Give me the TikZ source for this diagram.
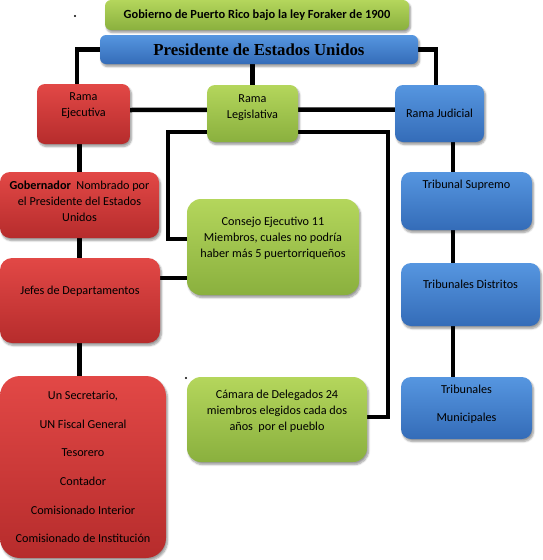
\documentclass[tikz,border=0pt]{standalone}
\usepackage{fontspec}
\setmainfont{Carlito}
\newfontfamily\presfont{Liberation Serif}
\usetikzlibrary{calc,backgrounds,shadows.blur}

\begin{document}
\begin{tikzpicture}[x=1pt, y=-1pt, line join=miter,
  box/.style={rounded corners=8pt, align=center, inner sep=2pt,
    font=\fontsize{12.2}{16}\selectfont,
    blur shadow={shadow xshift=1.5pt, shadow yshift=-2.5pt, shadow blur steps=6}},
  redbox/.style={box, top color=redtop, bottom color=redbot},
  greenbox/.style={box, top color=greentop, bottom color=greenbot},
  bluebox/.style={box, top color=bluetop, bottom color=bluebot},
  link/.style={line width=4.5pt, black}]

% Colors
\definecolor{redtop}{RGB}{226,72,70}
\definecolor{redbot}{RGB}{182,44,44}
\definecolor{greentop}{RGB}{180,214,92}
\definecolor{greenbot}{RGB}{138,176,62}
\definecolor{bluetop}{RGB}{86,150,224}
\definecolor{bluebot}{RGB}{52,108,184}

\useasboundingbox (0,0) rectangle (543,560);

% Header
\node[greenbox, rounded corners=6pt, minimum width=304pt, minimum height=30pt,
  font=\fontsize{12.4}{14}\selectfont\bfseries] (title) at (257,15)
  {Gobierno de Puerto Rico bajo la ley Foraker de 1900};
\node[bluebox, rounded corners=6pt, minimum width=318pt, minimum height=29pt,
  font=\fontsize{16.8}{18}\selectfont\presfont\bfseries] (pres) at (259,49.5)
  {Presidente de Estados Unidos};

% Three branches
\node[redbox, minimum width=93pt, minimum height=60pt, text depth=19.5pt] (ej) at (83.5,114)
  {Rama\\Ejecutiva};
\node[greenbox, minimum width=91pt, minimum height=57pt, text depth=13.5pt] (leg) at (252.5,113.5)
  {Rama\\Legislativa};
\node[bluebox, minimum width=89pt, minimum height=57pt] (jud) at (439.5,113.5)
  {Rama Judicial};

% Executive column
\node[redbox, rounded corners=10pt, minimum width=159pt, minimum height=66pt, text depth=8.5pt] (gob) at (79.5,205)
  {\textbf{Gobernador}~ Nombrado por\\el Presidente del Estados\\Unidos};
\node[redbox, rounded corners=12pt, minimum width=160pt, minimum height=85pt, text depth=19.5pt] (jefes) at (80,300.5)
  {Jefes de Departamentos};
\node[redbox, rounded corners=20pt, minimum width=166pt, minimum height=182pt,
  font=\fontsize{12.2}{28.6}\selectfont] (sec) at (83,467)
  {Un Secretario,\\UN Fiscal General\\Tesorero\\Contador\\Comisionado Interior\\Comisionado de Instituci\'on};

% Legislative column
\node[greenbox, rounded corners=14pt, minimum width=172pt, minimum height=96pt, text depth=18.5pt] (consejo) at (273,247)
  {Consejo Ejecutivo 11\\Miembros, cuales no podr\'ia\\haber m\'as 5 puertorrique\~nos};
\node[greenbox, rounded corners=14pt, minimum width=180pt, minimum height=85pt, text depth=17.5pt] (camara) at (277,419.5)
  {C\'amara de Delegados 24\\miembros elegidos cada dos\\a\~nos~ por el pueblo};

% Judicial column
\node[bluebox, rounded corners=10pt, minimum width=131pt, minimum height=58pt, text depth=32.5pt] (sup) at (466.5,201)
  {Tribunal Supremo};
\node[bluebox, rounded corners=10pt, minimum width=139pt, minimum height=63pt, text depth=19.5pt] (dist) at (470.5,294.5)
  {Tribunales Distritos};
\node[bluebox, rounded corners=10pt, minimum width=131pt, minimum height=62pt, text depth=8.5pt,
  font=\fontsize{12.2}{28}\selectfont] (mun) at (466.5,408)
  {Tribunales\\Municipales};

% Stray bullets
\fill (75,16) circle (1.1);
\fill (186,378) circle (1.1);

% Connectors
\begin{scope}[on background layer]
\draw[link] (pres.west) -| ([xshift=-6.5pt]ej.north);
\draw[link] (pres.east) -| ([xshift=-3.5pt]jud.north);
\draw[link] (pres.south -| leg.north) -- (leg.north);
\draw[link] ([yshift=4pt]ej.east) -- ([yshift=4pt]jud.west);
\draw[link] (ej.south -| gob.north) -- (sec.north -| gob.north);
\coordinate (jcol) at ([xshift=-13.5pt]sup.north);
\draw[link] (jcol |- jud.south) -- (jcol |- mun.north);
\coordinate (jlink) at ([yshift=-31pt]consejo.west);
\draw[link] (jlink) -- (jlink -| jefes.east);
\draw[link] ([yshift=8pt]consejo.west) -| (168,132) -| ($([yshift=2.5pt]camara.east)+(21,0)$)
  -- ([yshift=2.5pt]camara.east);
\end{scope}
\end{tikzpicture}
\end{document}
